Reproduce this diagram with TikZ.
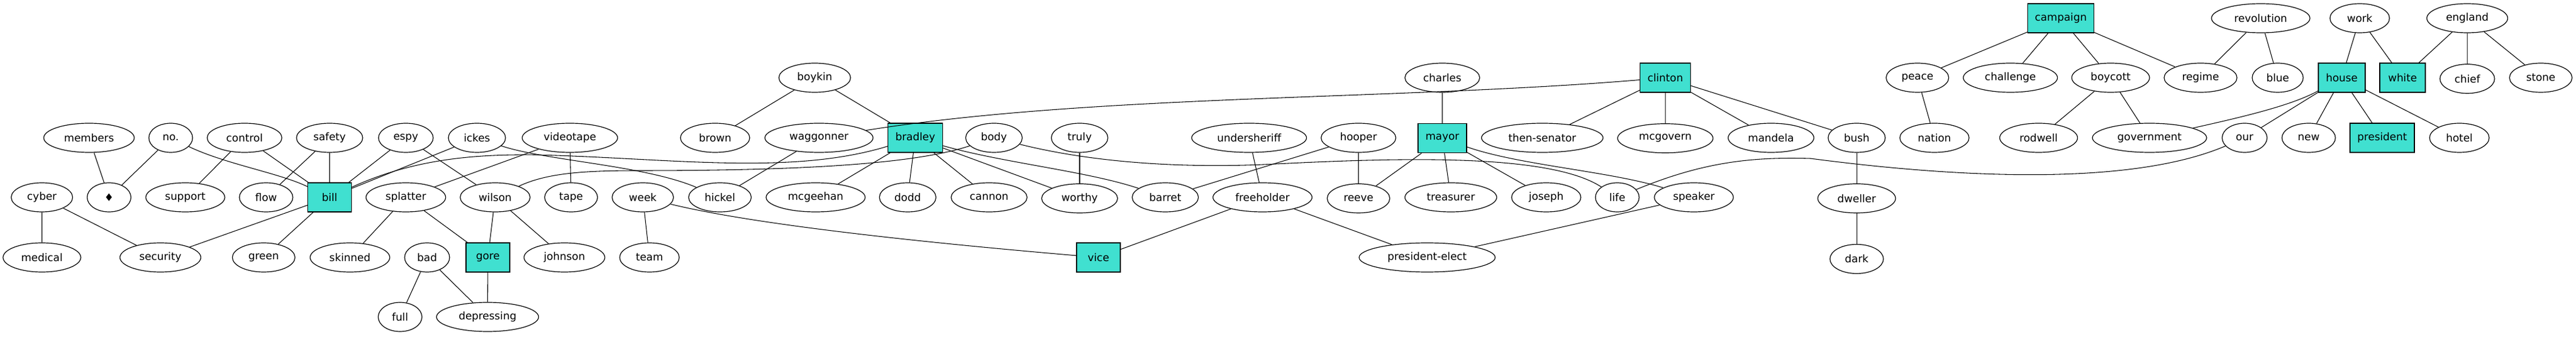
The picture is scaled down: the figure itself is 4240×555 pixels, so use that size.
\documentclass[tikz,border=0pt]{standalone}
\usepackage{fontspec}
\setmainfont{DejaVu Sans}
\usepackage{tikz}
\usetikzlibrary{shapes.geometric,positioning}

\definecolor{turq}{HTML}{40E0D0}

\begin{document}
\begin{tikzpicture}[
    x=0.75pt, y=-0.75pt,
    node distance=37.9pt,
    every node/.style={font=\fontsize{13}{15}\selectfont, inner sep=0pt, minimum height=36pt, line width=0.9pt},
    word/.style={draw, ellipse, minimum width=#1*0.75pt},
    word/.default=72,
    hub/.style={draw, fill=turq, rectangle, minimum width=#1*0.75pt},
    hub/.default=72,
    link/.style={line width=0.8pt}
]
\useasboundingbox (0,0) rectangle (4240,555);

% top row
\node (campaign) [hub=109] at (3392,30) {campaign};
\node (revolution) [word=162] at (3721,30) {revolution};
\node (work) [word=98] at (3884,30) {work};
\node (england) [word=133] at (4061,30) {england};

% second row
\node (boykin) [word=118] at (1341,128) {boykin};
\node (charles) [word=123] at (2374,128) {charles};
\node (clinton) [hub=83] at (2741,128) {clinton};
\node (peace) [word=103] at (3156,128) {peace};
\node (challenge) [word=155] at (3309,128) {challenge};
\node (boycott) [word=128] at (3474,128) {boycott};
\node (regime) [word=120] at (3622,128) {regime};
\node (blue) [word=84] at (3749,128) {blue};
\node (house) [hub=77] at (3854.4,128) {house};
\node (white) [hub=75] at (3954.5,128) {white};
\node (chief) [word=90, below=of england] {chief};
\node (stone) [word=103] at (4182,128) {stone};

% third row
\node (members) [word=149] at (146.5,227) {members};
\node (no) [word=72] at (281,227) {no.};
\node (control) [word=123] at (402.5,227) {control};
\node (safety) [word=109] at (542.5,227) {safety};
\node (espy) [word=90] at (668,227) {espy};
\node (ickes) [word=94] at (785,227) {ickes};
\node (videotape) [word=157] at (938,227) {videotape};
\node (brown) [word=114] at (1177,227) {brown};
\node (waggonner) [word=178] at (1348,227) {waggonner};
\node (bradley) [hub=90] at (1506.5,227) {bradley};
\node (body) [word=93] at (1636,227) {body};
\node (truly) [word=93] at (1777,227) {truly};
\node (undersheriff) [word=189] at (2056,227) {undersheriff};
\node (hooper) [word=123] at (2236,227) {hooper};
\node (mayor) [hub=80, below=of charles] {mayor};
\node (thensenator) [word=200] at (2538.5,227) {then-senator};
\node (mcgovern) [word=157, below=of clinton] {mcgovern};
\node (mandela) [word=141] at (2915,227) {mandela};
\node (bush) [word=94] at (3056,227) {bush};
\node (nation) [word=114] at (3184,227) {nation};
\node (rodwell) [word=128] at (3355.5,227) {rodwell};
\node (government) [word=188] at (3538,227) {government};
\node (our) [word=74] at (3694.5,227) {our};
\node (new) [word=88] at (3800,227) {new};
\node (president) [hub=106] at (3921,227) {president};
\node (hotel) [word=98] at (4048,227) {hotel};

% fourth row
\node (cyber) [word=101] at (69,325) {cyber};
\node (suit) [word=72] at (179.5,325) {♦};
\node (support) [word=130] at (305,325) {support};
\node (flow) [word=88] at (438,325) {flow};
\node (bill) [hub=72] at (542.5,325) {bill};
\node (splatter) [word=131] at (668,325) {splatter};
\node (wilson) [word=115] at (815,325) {wilson};
\node (tape) [word=87] at (940,325) {tape};
\node (week) [word=101] at (1058,325) {week};
\node (hickel) [word=103] at (1185,325) {hickel};
\node (mcgeehan) [word=163] at (1342.5,325) {mcgeehan};
\node (dodd) [word=93] at (1494,325) {dodd};
\node (cannon) [word=125] at (1628,325) {cannon};
\node (worthy) [word=125, below=of truly] {worthy};
\node (barret) [word=109] at (1918,325) {barret};
\node (freeholder) [word=163] at (2078,325) {freeholder};
\node (reeve) [word=103, below=of hooper] {reeve};
\node (treasurer) [word=151] at (2388,325) {treasurer};
\node (joseph) [word=114] at (2545,325) {joseph};
\node (life) [word=72] at (2662,325) {life};
\node (speaker) [word=130] at (2788,325) {speaker};
\node (dweller) [word=128, below=of bush] {dweller};

% fifth row
\node (medical) [word=128] at (69,424) {medical};
\node (security) [word=133] at (264,424) {security};
\node (green) [word=103] at (434,424) {green};
\node (skinned) [word=131] at (576,424) {skinned};
\node (bad) [word=74] at (703,424) {bad};
\node (gore) [hub=72] at (803,424) {gore};
\node (johnson) [word=133] at (929,424) {johnson};
\node (team) [word=98] at (1069,424) {team};
\node (vice) [hub=72] at (1808,424) {vice};
\node (preselect) [word=224] at (2349,424) {president-elect};
\node (dark) [word=88, below=of dweller] {dark};

% bottom row
\node (full) [word=72] at (658.5,522) {full};
\node (depressing) [word=168] at (802.5,522) {depressing};

% bill and its neighbours
\draw[link] (members) -- (suit) (no) -- (suit);
\draw[link] (no) .. controls (370,270) and (460,285) .. (bill);
\draw[link] (control) -- (support) (control) -- (bill);
\draw[link] (safety) -- (flow) (safety) -- (bill);
\draw[link] (espy) -- (bill) (espy) -- (wilson) (ickes) -- (bill);
\draw[link] (ickes) .. controls (900,265) and (1060,272) .. (hickel);
\draw[link] (videotape) -- (splatter) (videotape) -- (tape);
\draw[link] (bill) .. controls (680,262) and (780,254) .. (880,255)
    .. controls (1100,260) and (1300,290) .. (bradley);
\draw[link] (bill) -- (security) (bill) -- (green);
\draw[link] (cyber) -- (medical) (cyber) -- (security);
\draw[link] (splatter) -- (skinned) (splatter) -- (gore);
\draw[link] (bad) -- (full) (bad) -- (depressing) (gore) -- (depressing);
\draw[link] (wilson) -- (gore) (wilson) -- (johnson);
\draw[link] (wilson) .. controls (900,285) and (960,281) .. (1050,281)
    .. controls (1300,281) and (1500,272) .. (body);
\draw[link] (week) -- (team);
\draw[link] (week) .. controls (1250,372) and (1550,402) .. (vice);

% bradley
\draw[link] (waggonner) -- (hickel) (boykin) -- (brown) (boykin) -- (bradley);
\draw[link] (bradley) -- (mcgeehan) (bradley) -- (dodd) (bradley) -- (cannon) (bradley) -- (worthy);
\draw[link] (bradley) .. controls (1650,268) and (1790,282) .. (barret);
\draw[link] (truly) -- (worthy);
\draw[link] (body) .. controls (1800,268) and (1950,278) .. (2100,270)
    .. controls (2300,260) and (2550,252) .. (life);

% mayor and clinton
\draw[link] (undersheriff) -- (freeholder) (freeholder) -- (vice) (freeholder) -- (preselect);
\draw[link] (hooper) -- (barret) (hooper) -- (reeve);
\draw[link] (charles) -- (mayor) (mayor) -- (reeve) (mayor) -- (treasurer) (mayor) -- (joseph);
\draw[link] (mayor) .. controls (2500,272) and (2650,282) .. (speaker);
\draw[link] (waggonner) .. controls (1800,155) and (2300,165) .. (clinton);
\draw[link] (clinton) -- (thensenator) (clinton) -- (mcgovern) (clinton) -- (mandela) (clinton) -- (bush);
\draw[link] (speaker) -- (preselect);
\draw[link] (bush) -- (dweller) (dweller) -- (dark);

% campaign and house
\draw[link] (campaign) -- (peace) (campaign) -- (challenge) (campaign) -- (boycott) (campaign) -- (regime);
\draw[link] (peace) -- (nation) (boycott) -- (rodwell) (boycott) -- (government);
\draw[link] (revolution) -- (regime) (revolution) -- (blue);
\draw[link] (work) -- (house) (work) -- (white);
\draw[link] (england) -- (white) (england) -- (chief) (england) -- (stone);
\draw[link] (house) .. controls (3770,175) and (3680,195) .. (government);
\draw[link] (house) -- (our) (house) -- (new) (house) -- (president) (house) -- (hotel);
\draw[link] (life) .. controls (2800,268) and (2880,258) .. (2980,261)
    .. controls (3200,290) and (3500,310) .. (our);

\end{tikzpicture}
\end{document}
